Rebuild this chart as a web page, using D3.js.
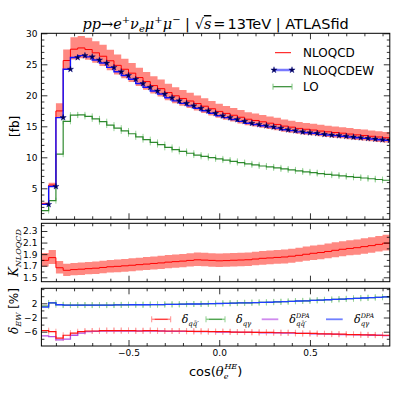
<!DOCTYPE html>
<html>
<head>
<meta charset="utf-8">
<script src="https://cdn.jsdelivr.net/npm/d3@7"></script>
<style>
  body { margin: 0; background: #fff; }
  svg { display: block; font-family: "DejaVu Sans", sans-serif; }
</style>
</head>
<body>
<svg id="chart" width="399" height="399"></svg>
<script>
// bin edges in cos(theta_e^HE)
const binEdges = [-0.98,-0.94,-0.90,-0.86,-0.82,-0.78,-0.74,-0.70,-0.66,-0.62,-0.58,-0.54,-0.50,-0.46,-0.42,-0.38,-0.34,-0.30,-0.26,-0.22,-0.18,-0.14,-0.10,-0.06,-0.02,0.02,0.06,0.10,0.14,0.18,0.22,0.26,0.30,0.34,0.38,0.42,0.46,0.50,0.54,0.58,0.62,0.66,0.70,0.74,0.78,0.82,0.86,0.90,0.94];

// [fb] per bin
const nloqcd = [2.51,5.52,17.48,25.61,27.44,27.64,27.38,26.85,26.30,25.57,24.83,24.20,23.57,22.86,22.21,21.57,21.07,20.44,19.92,19.49,19.08,18.67,18.24,17.83,17.40,17.08,16.78,16.46,16.14,15.94,15.72,15.50,15.30,15.03,14.86,14.66,14.52,14.40,14.23,14.11,14.00,13.89,13.75,13.62,13.52,13.39,13.28,13.16];
const nloqcdHi = [2.69,5.91,18.70,27.40,29.36,29.57,29.30,28.73,28.14,27.36,26.57,25.89,25.22,24.46,23.76,23.08,22.54,21.87,21.31,20.85,20.42,19.98,19.52,19.08,18.62,18.28,17.95,17.61,17.27,17.06,16.82,16.59,16.37,16.08,15.90,15.69,15.54,15.41,15.23,15.10,14.98,14.86,14.71,14.57,14.47,14.33,14.21,14.08];
const nloqcdLo = [2.36,5.19,16.43,24.07,25.79,25.98,25.74,25.24,24.72,24.04,23.34,22.75,22.16,21.49,20.88,20.28,19.81,19.21,18.72,18.32,17.94,17.55,17.15,16.76,16.36,16.06,15.77,15.47,15.17,14.98,14.78,14.57,14.38,14.13,13.97,13.78,13.65,13.54,13.38,13.26,13.16,13.06,12.93,12.80,12.71,12.59,12.48,12.37];
const nloqcdew = [2.4,5.3,16.4,24.2,26.1,26.4,26.2,25.7,25.2,24.5,23.8,23.2,22.6,21.9,21.3,20.7,20.2,19.6,19.1,18.7,18.3,17.9,17.5,17.1,16.7,16.4,16.1,15.8,15.5,15.3,15.1,14.9,14.7,14.45,14.3,14.1,13.97,13.87,13.7,13.6,13.5,13.4,13.27,13.16,13.06,12.95,12.84,12.74];
const lo = [1.4,3.0,10.5,15.8,16.8,16.85,16.6,16.2,15.75,15.2,14.7,14.25,13.8,13.3,12.85,12.4,12.05,11.6,11.25,10.95,10.65,10.36,10.15,9.95,9.75,9.55,9.35,9.15,8.95,8.78,8.6,8.45,8.3,8.12,7.97,7.8,7.65,7.52,7.38,7.25,7.12,7.0,6.88,6.77,6.66,6.54,6.42,6.3];

// delta_EW [%] per bin
const dQQ = [-5.7,-6.0,-7.8,-7.0,-6.4,-6.0,-5.8,-5.8,-5.7,-5.7,-5.7,-5.7,-5.7,-5.8,-5.7,-5.7,-5.8,-5.8,-5.8,-5.8,-5.9,-5.9,-5.9,-6.0,-6.0,-6.0,-6.1,-6.1,-6.1,-6.2,-6.2,-6.2,-6.3,-6.3,-6.3,-6.5,-6.5,-6.5,-6.6,-6.6,-6.7,-6.7,-6.8,-6.8,-6.9,-6.9,-7.0,-7.0];
const dQQdpa = [-7.2,-7.4,-8.3,-8.1,-7.0,-6.4,-6.0,-5.9,-5.8,-5.8,-5.8,-5.8,-5.8,-5.8,-5.8,-5.8,-5.8,-5.9,-5.9,-5.9,-5.9,-6.0,-6.0,-6.0,-6.1,-6.1,-6.1,-6.2,-6.2,-6.2,-6.3,-6.3,-6.3,-6.4,-6.4,-6.5,-6.5,-6.6,-6.6,-6.7,-6.7,-6.8,-6.8,-6.9,-6.9,-7.0,-7.0,-7.1];
const dQG = [1.2,2.1,1.6,1.5,1.5,1.5,1.5,1.5,1.5,1.5,1.55,1.55,1.6,1.6,1.6,1.65,1.65,1.7,1.7,1.75,1.8,1.8,1.85,1.9,1.95,2.0,2.05,2.1,2.15,2.2,2.25,2.3,2.4,2.45,2.55,2.65,2.7,2.8,2.9,3.0,3.1,3.2,3.3,3.4,3.5,3.6,3.7,3.8];
const dQGdpa = [0.9,2.1,1.6,1.5,1.5,1.5,1.5,1.5,1.5,1.5,1.55,1.55,1.6,1.6,1.6,1.65,1.65,1.7,1.7,1.75,1.8,1.8,1.85,1.9,1.95,2.0,2.05,2.1,2.15,2.2,2.25,2.3,2.4,2.45,2.55,2.65,2.7,2.8,2.9,3.0,3.1,3.2,3.3,3.4,3.5,3.6,3.7,3.8];

// ticks
const xMajor = [-0.5, 0, 0.5];
const xMinor = [-0.9,-0.8,-0.7,-0.6,-0.4,-0.3,-0.2,-0.1,0.1,0.2,0.3,0.4,0.6,0.7,0.8,0.9];
const topMajor = [5,10,15,20,25,30];
const topMinor = [1,2,3,4,6,7,8,9,11,12,13,14,16,17,18,19,21,22,23,24,26,27,28,29];
const midMajor = [1.5,1.7,1.9,2.1,2.3];
const midMinor = [1.6,1.8,2.0,2.2,2.4];
const botMajor = [2,-2,-6];
const botMinor = [6,4,0,-4,-8];

const svg = d3.select('#chart');
const L = 41.4, R = 389.8;
const x = d3.scaleLinear().domain([-0.98, 0.94]).range([L, R]);

const panels = {
  top: { y: d3.scaleLinear().domain([0, 30]).range([219.3, 33.3]), major: topMajor, minor: topMinor, fmt: d3.format('d') },
  mid: { y: d3.scaleLinear().domain([1.424, 2.433]).range([281.7, 223.3]), major: midMajor, minor: midMinor, fmt: d3.format('.1f') },
  bot: { y: d3.scaleLinear().domain([-10.03, 6.23]).range([346, 288.3]), major: botMajor, minor: botMinor, fmt: d3.format('d') }
};

function drawFrame(name, p, xLabels) {
  const t = p.y.range()[1], b = p.y.range()[0];
  const g = svg.append('g').attr('class', 'axes-' + name);
  const mk = (axis, tx, ty) => {
    const a = g.append('g').attr('transform', `translate(${tx},${ty})`).call(axis);
    a.select('.domain').remove();
    a.selectAll('line').attr('stroke', '#000').attr('stroke-width', 0.8);
    a.selectAll('text').attr('fill', '#000').attr('font-size', 9).attr('font-family', 'DejaVu Sans');
    return a;
  };
  mk(d3.axisBottom(x).tickValues(xMajor).tickSizeInner(-6).tickSizeOuter(0).tickPadding(4)
      .tickFormat(xLabels ? d3.format('.1f') : ''), 0, b);
  mk(d3.axisBottom(x).tickValues(xMinor).tickSizeInner(-3).tickSizeOuter(0).tickFormat(''), 0, b);
  mk(d3.axisTop(x).tickValues(xMajor).tickSizeInner(-6).tickSizeOuter(0).tickFormat(''), 0, t);
  mk(d3.axisTop(x).tickValues(xMinor).tickSizeInner(-3).tickSizeOuter(0).tickFormat(''), 0, t);
  mk(d3.axisLeft(p.y).tickValues(p.major).tickSizeInner(-6).tickSizeOuter(0).tickPadding(4).tickFormat(p.fmt), L, 0);
  mk(d3.axisLeft(p.y).tickValues(p.minor).tickSizeInner(-3).tickSizeOuter(0).tickFormat(''), L, 0);
  mk(d3.axisRight(p.y).tickValues(p.major).tickSizeInner(-6).tickSizeOuter(0).tickFormat(''), R, 0);
  mk(d3.axisRight(p.y).tickValues(p.minor).tickSizeInner(-3).tickSizeOuter(0).tickFormat(''), R, 0);
  g.append('rect').attr('x', L).attr('y', t).attr('width', R - L).attr('height', b - t)
    .attr('fill', 'none').attr('stroke', '#000').attr('stroke-width', 1);
}

function clipFor(name, p) {
  const t = p.y.range()[1], b = p.y.range()[0];
  svg.append('clipPath').attr('id', 'clip-' + name)
    .append('rect').attr('x', L).attr('y', t).attr('width', R - L).attr('height', b - t);
  return svg.append('g').attr('clip-path', `url(#clip-${name})`);
}

const stepPts = vals => binEdges.map((e, i) => [e, vals[Math.min(i, vals.length - 1)]]);
const stepLine = yS => d3.line().curve(d3.curveStepAfter).x(d => x(d[0])).y(d => yS(d[1]));
const stepArea = yS => d3.area().curve(d3.curveStepAfter).x(d => x(d.e)).y0(d => yS(d.lo)).y1(d => yS(d.hi));
const bandPts = (hi, lo) => binEdges.map((e, i) => {
  const k = Math.min(i, hi.length - 1);
  return { e: e, hi: hi[k], lo: lo[k] };
});

function caps(g, yS, vals, color, h) {
  vals.forEach((v, i) => {
    [binEdges[i], binEdges[i + 1]].forEach(e => {
      g.append('line').attr('x1', x(e)).attr('x2', x(e))
        .attr('y1', yS(v) - h).attr('y2', yS(v) + h)
        .attr('stroke', color).attr('stroke-width', 1);
    });
  });
}

// ---------- top panel ----------
const gt = clipFor('top', panels.top);
const yT = panels.top.y;
gt.append('path').attr('d', stepArea(yT)(bandPts(nloqcdHi, nloqcdLo)))
  .attr('fill', '#ff3b2f').attr('fill-opacity', 0.6);
caps(gt, yT, lo, '#9ad49a', 3);
gt.append('path').attr('d', stepLine(yT)(stepPts(lo))).attr('fill', 'none')
  .attr('stroke', '#2f8a2f').attr('stroke-width', 1.2);
gt.append('path').attr('d', stepLine(yT)(stepPts(nloqcd))).attr('fill', 'none')
  .attr('stroke', '#ff0000').attr('stroke-width', 1);
gt.append('path').attr('d', stepLine(yT)(stepPts(nloqcdew))).attr('fill', 'none')
  .attr('stroke', '#1010ff').attr('stroke-width', 1.4);
const star = d3.symbol().type(d3.symbolStar).size(12);
gt.selectAll('.star').data(nloqcdew).enter().append('path')
  .attr('class', 'star')
  .attr('transform', (d, i) => `translate(${x(binEdges[i + 1])},${yT(d)})`)
  .attr('d', star).attr('fill', '#000050').attr('stroke', '#000080').attr('stroke-width', 0.4);

// ---------- middle panel ----------
const gm = clipFor('mid', panels.mid);
const yM = panels.mid.y;
const kVal = nloqcd.map((v, i) => v / lo[i]);
const kHi = nloqcdHi.map((v, i) => v / lo[i]);
const kLo = nloqcdLo.map((v, i) => v / lo[i]);
gm.append('path').attr('d', stepArea(yM)(bandPts(kHi, kLo)))
  .attr('fill', '#ff3b2f').attr('fill-opacity', 0.6);
gm.append('path').attr('d', stepLine(yM)(stepPts(kVal))).attr('fill', 'none')
  .attr('stroke', '#ff0000').attr('stroke-width', 1);

// ---------- bottom panel ----------
const gb = clipFor('bot', panels.bot);
const yB = panels.bot.y;
caps(gb, yB, dQQ, '#ff9f9f', 3);
caps(gb, yB, dQG, '#9ad49a', 3);
gb.append('path').attr('d', stepLine(yB)(stepPts(dQG))).attr('fill', 'none')
  .attr('stroke', '#2f8a2f').attr('stroke-width', 1.2);
gb.append('path').attr('d', stepLine(yB)(stepPts(dQGdpa))).attr('fill', 'none')
  .attr('stroke', '#2040ff').attr('stroke-width', 1.3);
gb.append('path').attr('d', stepLine(yB)(stepPts(dQQdpa))).attr('fill', 'none')
  .attr('stroke', '#b44ee0').attr('stroke-width', 1.3);
gb.append('path').attr('d', stepLine(yB)(stepPts(dQQ))).attr('fill', 'none')
  .attr('stroke', '#ff1010').attr('stroke-width', 1.2);

drawFrame('top', panels.top, false);
drawFrame('mid', panels.mid, false);
drawFrame('bot', panels.bot, true);

// ---------- legend (top) ----------
const lg = svg.append('g');
const legendRows = [
  { label: 'NLOQCD', y: 52.7, kind: 'red' },
  { label: 'NLOQCDEW', y: 70, kind: 'blue' },
  { label: 'LO', y: 86.7, kind: 'green' }
];
legendRows.forEach(r => {
  if (r.kind === 'red') {
    lg.append('line').attr('x1', 275).attr('x2', 291).attr('y1', r.y).attr('y2', r.y)
      .attr('stroke', '#ff0000').attr('stroke-width', 1);
  } else if (r.kind === 'blue') {
    lg.append('line').attr('x1', 274).attr('x2', 292).attr('y1', r.y).attr('y2', r.y)
      .attr('stroke', '#4040ff').attr('stroke-width', 2.5).attr('stroke-opacity', 0.7);
    [274, 292].forEach(px => lg.append('path').attr('transform', `translate(${px},${r.y})`)
      .attr('d', star).attr('fill', '#000050').attr('stroke', '#000080').attr('stroke-width', 0.4));
  } else {
    lg.append('line').attr('x1', 273).attr('x2', 292).attr('y1', r.y).attr('y2', r.y)
      .attr('stroke', '#2f8a2f').attr('stroke-width', 1.2);
    [273, 292].forEach(px => lg.append('line').attr('x1', px).attr('x2', px)
      .attr('y1', r.y - 3).attr('y2', r.y + 3).attr('stroke', '#7cc47c').attr('stroke-width', 1));
  }
  lg.append('text').attr('x', 303).attr('y', r.y + 4.5).attr('font-size', 12).text(r.label);
});

// ---------- legend (bottom) ----------
const bl = svg.append('g');
const by = 319.3;
function errLegend(x1, x2, c, capC) {
  bl.append('line').attr('x1', x1).attr('x2', x2).attr('y1', by).attr('y2', by)
    .attr('stroke', capC).attr('stroke-width', 1.5);
  [x1, x2].forEach(px => bl.append('line').attr('x1', px).attr('x2', px)
    .attr('y1', by - 3).attr('y2', by + 3).attr('stroke', capC).attr('stroke-width', 1));
  bl.append('line').attr('x1', x1 + 3).attr('x2', x2 - 3).attr('y1', by).attr('y2', by)
    .attr('stroke', c).attr('stroke-width', 0.8);
}
errLegend(151.7, 170.7, '#ff1010', '#ff8f8f');
errLegend(206, 225, '#2f8a2f', '#8fcf8f');
bl.append('line').attr('x1', 261.7).attr('x2', 278.3).attr('y1', by).attr('y2', by)
  .attr('stroke', '#cf8aee').attr('stroke-width', 1.8);
bl.append('line').attr('x1', 326).attr('x2', 342.7).attr('y1', by).attr('y2', by)
  .attr('stroke', '#7080ff').attr('stroke-width', 1.8);

function deltaLabel(px, sub, sup) {
  const t = bl.append('text').attr('x', px).attr('y', by + 4).attr('font-family', 'DejaVu Serif');
  t.append('tspan').attr('font-style', 'italic').attr('font-size', 11).text('δ');
  const s = t.append('tspan').attr('font-style', 'italic').attr('font-size', 7).attr('dy', 3).text(sub);
  if (sup) {
    const w = s.node().getComputedTextLength();
    t.append('tspan').attr('font-style', 'italic').attr('font-size', 6.5)
      .attr('dx', -w).attr('dy', -8).text(sup);
  }
}
deltaLabel(181.7, 'qq̄′');
deltaLabel(236, 'qγ');
deltaLabel(289.3, 'qq̄′', 'DPA');
deltaLabel(354, 'qγ', 'DPA');

// ---------- title ----------
const title = svg.append('text').attr('x', (L + R) / 2).attr('y', 29)
  .attr('text-anchor', 'middle').attr('font-size', 14.5);
const tp = (txt, o = {}) => {
  const s = title.append('tspan').text(txt);
  if (o.i) s.attr('font-style', 'italic');
  if (o.serif) s.attr('font-family', 'DejaVu Serif');
  if (o.fs) s.attr('font-size', o.fs);
  if (o.dy) s.attr('dy', o.dy);
  if (o.dx) s.attr('dx', o.dx);
  if (o.over) s.attr('text-decoration', 'overline');
  return s;
};
tp('pp', { i: 1, serif: 1 });
tp('→', { serif: 1 });
tp('e', { i: 1, serif: 1 });
tp('+', { serif: 1, fs: 10, dy: -6 });
tp('ν', { i: 1, serif: 1, dy: 6 });
tp('e', { i: 1, serif: 1, fs: 10, dy: 3 });
tp('μ', { i: 1, serif: 1, dy: -3 });
tp('+', { serif: 1, fs: 10, dy: -6 });
tp('μ', { i: 1, serif: 1, dy: 6 });
tp('−', { serif: 1, fs: 10, dy: -6 });
tp(' | ', { dy: 6 });
tp('√', { serif: 1 });
tp('s', { i: 1, serif: 1, over: 1 });
tp('=', { serif: 1, dx: 2 });
tp('13TeV | ATLASfid', { dx: 2 });

// ---------- axis labels ----------
svg.append('text').attr('transform', `translate(19,${(33.3 + 219.3) / 2}) rotate(-90)`)
  .attr('text-anchor', 'middle').attr('font-size', 12).text('[fb]');

const kl = svg.append('text').attr('transform', `translate(18,253) rotate(-90)`)
  .attr('text-anchor', 'middle').attr('font-family', 'DejaVu Serif').attr('font-style', 'italic');
kl.append('tspan').attr('font-size', 13).text('K');
kl.append('tspan').attr('font-size', 8).attr('dy', 3).text('NLOQCD');

const dl = svg.append('text').attr('transform', `translate(18,311) rotate(-90)`)
  .attr('text-anchor', 'middle');
dl.append('tspan').attr('font-family', 'DejaVu Serif').attr('font-style', 'italic').attr('font-size', 12).text('δ');
dl.append('tspan').attr('font-family', 'DejaVu Serif').attr('font-style', 'italic').attr('font-size', 8).attr('dy', 3).text('EW');
dl.append('tspan').attr('font-size', 12).attr('dy', -3).text(' [%]');

const xl = svg.append('text').attr('x', (L + R) / 2).attr('y', 376)
  .attr('text-anchor', 'middle').attr('font-size', 13);
xl.append('tspan').text('cos(');
xl.append('tspan').attr('font-family', 'DejaVu Serif').attr('font-style', 'italic').text('θ');
xl.append('tspan').attr('font-family', 'DejaVu Serif').attr('font-style', 'italic').attr('font-size', 8).attr('dy', 3).text('e');
xl.append('tspan').attr('font-family', 'DejaVu Serif').attr('font-style', 'italic').attr('font-size', 8).attr('dx', -4).attr('dy', -10).text('HE');
xl.append('tspan').attr('dy', 7).text(')');
</script>
</body>
</html>
